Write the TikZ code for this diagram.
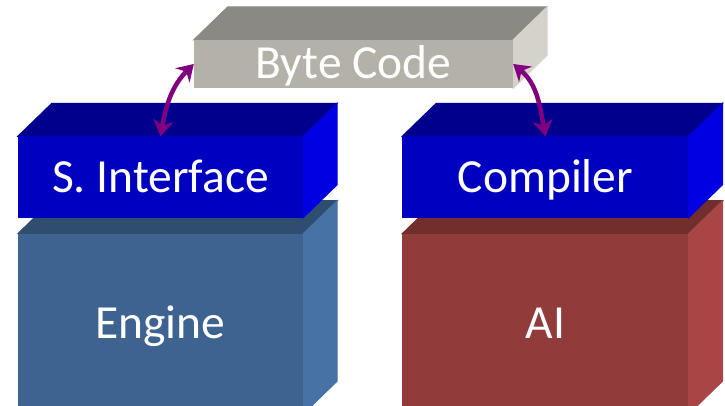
\documentclass[tikz,border=0pt]{standalone}
\usepackage{fontspec}
\setmainfont{Carlito}
\usetikzlibrary{positioning,arrows.meta,backgrounds}

\definecolor{codefront}{HTML}{B4B1A9}
\definecolor{codetop}{HTML}{8B8983}
\definecolor{codeside}{HTML}{D5D2CA}
\definecolor{bluefront}{HTML}{0000C0}
\definecolor{bluetop}{HTML}{00008C}
\definecolor{blueside}{HTML}{0000E1}
\definecolor{enginefront}{HTML}{3E6390}
\definecolor{enginetop}{HTML}{2F4E6F}
\definecolor{engineside}{HTML}{4672A6}
\definecolor{aifront}{HTML}{913B3B}
\definecolor{aitop}{HTML}{722D2D}
\definecolor{aiside}{HTML}{A84646}
\definecolor{linkpurple}{HTML}{800080}

\tikzset{
	slab/.style={fill=#1, text=white, inner sep=0pt, text height=30pt, text depth=0pt,
		font=\fontsize{47.5}{52}\selectfont},
	link/.style={draw=linkpurple, line width=4.5pt,
		{Stealth[length=16pt,width=20pt]}-{Stealth[length=16pt,width=20pt]}},
}

% top and side faces of a slab, drawn behind its front
\newcommand{\slabfaces}[3]{%
	\begin{pgfonlayer}{background}
		\filldraw[#2, line width=1pt] (#1.north west) -- (#1.north east) -- ([shift={(34,33)}]#1.north east) -- ([shift={(34,33)}]#1.north west) -- cycle;
		\filldraw[#3, line width=1pt] (#1.north east) -- (#1.south east) -- ([shift={(34,33)}]#1.south east) -- ([shift={(34,33)}]#1.north east) -- cycle;
	\end{pgfonlayer}}

\begin{document}
\begin{tikzpicture}[x=1pt, y=1pt]
	\useasboundingbox (0,0) rectangle (725,405);

	\node[slab=codefront, minimum width=319pt, minimum height=48pt] (code) at (353.5,341) {Byte Code};

	\node[slab=bluefront, minimum width=285pt, minimum height=81pt] (iface) at (160.5,228) {S. Interface};
	\node[slab=enginefront, minimum width=285pt, minimum height=180pt, below=16pt of iface] (engine) {Engine};
	\node[slab=bluefront, minimum width=286pt, minimum height=81pt, right=99pt of iface] (compiler) {Compiler};
	\node[slab=aifront, minimum width=286pt, minimum height=180pt, below=16pt of compiler] (ai) {AI};

	\slabfaces{code}{codetop}{codeside}
	\slabfaces{engine}{enginetop}{engineside}
	\slabfaces{ai}{aitop}{aiside}
	\slabfaces{iface}{bluetop}{blueside}
	\slabfaces{compiler}{bluetop}{blueside}

	\draw[link] (code.west) to[out=225, in=80] (iface.north);
	\draw[link] (code.east) to[out=-40, in=100] (compiler.north);

\end{tikzpicture}
\end{document}
